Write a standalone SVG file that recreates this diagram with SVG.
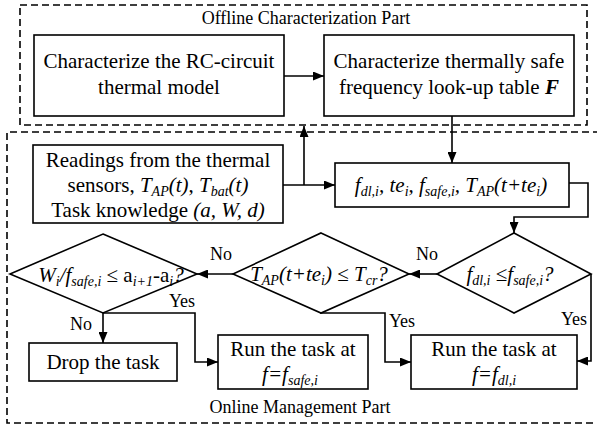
<svg xmlns="http://www.w3.org/2000/svg" width="597" height="431" viewBox="0 0 597 431">
<style>
text{font-family:'Liberation Serif','Times New Roman','DejaVu Serif',serif;font-size:21px;fill:#000}
.lbl{font-size:18px}
.i{font-style:italic}
.r{font-style:normal}
.s{font-size:14px}
.box{fill:#fff;stroke:#000;stroke-width:1.6}
.dash{fill:none;stroke:#000;stroke-width:1.6;stroke-dasharray:7 4}
.c{fill:none;stroke:#000;stroke-width:1.6}
.bi{font-weight:bold;font-style:italic}
</style>
<defs>
<marker id="ah" markerUnits="userSpaceOnUse" markerWidth="11" markerHeight="9" refX="11" refY="4.5" orient="auto">
<path d="M0,0 L11,4.5 L0,9 z" fill="#000"/>
</marker>
</defs>
<rect width="597" height="431" fill="#fff"/>
<g id="offline-part">
<rect class="dash" x="20" y="5" width="567" height="120"/>
<text class="lbl" x="306" y="24" text-anchor="middle" font-family="Liberation Serif, serif">Offline Characterization Part</text>
</g>
<g id="online-part">
<path class="dash" d="M600,132 H7 V423 H600"/>
<text class="lbl" x="300" y="413" text-anchor="middle">Online Management Part</text>
</g>
<g id="connectors">
<path class="c" d="M284,76 H324" marker-end="url(#ah)"/>
<path class="c" d="M452,116 V163" marker-end="url(#ah)"/>
<path class="c" d="M283,185 H335" marker-end="url(#ah)"/>
<path class="c" d="M304,185 V126" marker-end="url(#ah)"/>
<path class="c" d="M569,183 H588 V217 H514 V233" marker-end="url(#ah)"/>
<path class="c" d="M437,274 H409" marker-end="url(#ah)"/>
<path class="c" d="M233,274 H197" marker-end="url(#ah)"/>
<path class="c" d="M103,313 V343" marker-end="url(#ah)"/>
<path class="c" d="M103,313 H195 V362 H218" marker-end="url(#ah)"/>
<path class="c" d="M320,313 H385 V362 H411" marker-end="url(#ah)"/>
<path class="c" d="M591,274 V361 H577" marker-end="url(#ah)"/>
<text class="lbl" x="427" y="260" text-anchor="middle">No</text>
<text class="lbl" x="221" y="260" text-anchor="middle">No</text>
<text class="lbl" x="81" y="330" text-anchor="middle">No</text>
<text class="lbl" x="182" y="307" text-anchor="middle">Yes</text>
<text class="lbl" x="402" y="327" text-anchor="middle">Yes</text>
<text class="lbl" x="574" y="325" text-anchor="middle">Yes</text>
</g>
<g id="rc-model">
<rect class="box" x="34" y="35" width="250" height="81"/>
<text x="159" y="68" text-anchor="middle">Characterize the RC-circuit</text>
<text x="159" y="94" text-anchor="middle">thermal model</text>
</g>
<g id="freq-table">
<rect class="box" x="324" y="35" width="250" height="81"/>
<text x="449" y="68" text-anchor="middle">Characterize thermally safe</text>
<text x="449" y="94" text-anchor="middle">frequency look-up table <tspan class="bi">F</tspan></text>
</g>
<g id="readings">
<rect class="box" x="33" y="145" width="250" height="78"/>
<text x="158" y="167" text-anchor="middle">Readings from the thermal</text>
<text x="158" y="192" text-anchor="middle">sensors, <tspan class="i">T</tspan><tspan class="s i" dy="4">AP</tspan><tspan class="i" dy="-4">(t)</tspan>, <tspan class="i">T</tspan><tspan class="s i" dy="4">bat</tspan><tspan class="i" dy="-4">(t)</tspan></text>
<text x="158" y="217" text-anchor="middle">Task knowledge <tspan class="i">(a, W, d)</tspan></text>
</g>
<g id="params">
<rect class="box" x="335" y="163" width="234" height="44"/>
<text class="i" x="451" y="192" text-anchor="middle">f<tspan class="s" dy="4">dl,i</tspan><tspan dy="-4">, te</tspan><tspan class="s" dy="4">i</tspan><tspan dy="-4">, f</tspan><tspan class="s" dy="4">safe,i</tspan><tspan dy="-4">, T</tspan><tspan class="s" dy="4">AP</tspan><tspan dy="-4">(t+te</tspan><tspan class="s" dy="4">i</tspan><tspan dy="-4">)</tspan></text>
</g>
<g id="check-dl">
<path class="box" d="M514,233 L591,274 L514,313 L437,274 Z"/>
<text class="i" x="510" y="281" text-anchor="middle">f<tspan class="s" dy="4">dl,i</tspan><tspan class="r" dy="-4"> ≤</tspan>f<tspan class="s" dy="4">safe,i</tspan><tspan dy="-4">?</tspan></text>
</g>
<g id="check-temp">
<path class="box" d="M321,233 L409,274 L321,313 L233,274 Z"/>
<text class="i" x="319" y="281" text-anchor="middle">T<tspan class="s" dy="4">AP</tspan><tspan dy="-4">(t+te</tspan><tspan class="s" dy="4">i</tspan><tspan dy="-4">)</tspan><tspan class="r"> ≤ </tspan>T<tspan class="s" dy="4">cr</tspan><tspan dy="-4">?</tspan></text>
</g>
<g id="check-time">
<path class="box" d="M103,234 L197,274 L103,313 L10,274 Z"/>
<text class="i" x="111" y="282" text-anchor="middle">W<tspan class="s" dy="4">i</tspan><tspan dy="-4">/f</tspan><tspan class="s" dy="4">safe,i</tspan><tspan class="r" dy="-4"> ≤ a</tspan><tspan class="s" dy="4">i+1</tspan><tspan class="r" dy="-4">-a</tspan><tspan class="s" dy="4">i</tspan><tspan dy="-4">?</tspan></text>
</g>
<g id="drop">
<rect class="box" x="29" y="343" width="148" height="38"/>
<text x="103" y="369" text-anchor="middle">Drop the task</text>
</g>
<g id="run-safe">
<rect class="box" x="218" y="335" width="150" height="54"/>
<text x="293" y="356" text-anchor="middle">Run the task at</text>
<text class="i" x="290" y="381" text-anchor="middle">f=f<tspan class="s" dy="4">safe,i</tspan></text>
</g>
<g id="run-dl">
<rect class="box" x="411" y="335" width="166" height="54"/>
<text x="494" y="356" text-anchor="middle">Run the task at</text>
<text class="i" x="494" y="381" text-anchor="middle">f=f<tspan class="s" dy="4">dl,i</tspan></text>
</g>
</svg>
